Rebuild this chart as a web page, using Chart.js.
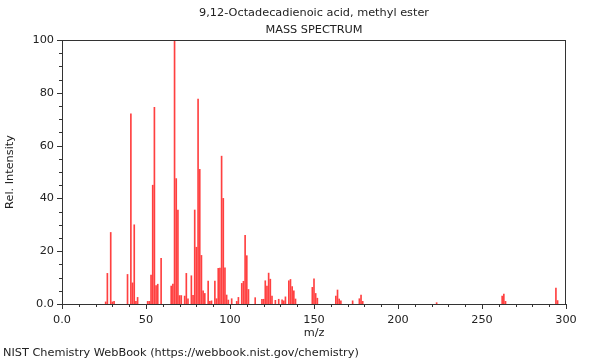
<!DOCTYPE html>
<html>
<head>
<meta charset="utf-8">
<script src="https://cdn.jsdelivr.net/npm/chart.js@4.4.1/dist/chart.umd.min.js"></script>
<style>
  html, body { margin: 0; padding: 0; background: #fff; }
  #wrap { width: 600px; height: 360px; }
</style>
</head>
<body>
<div id="wrap"><canvas id="spec" width="600" height="360"></canvas></div>
<script>
// m/z values and their relative intensity
const mzValues = [
  26, 27, 29, 30, 31,
  39, 41, 42, 43, 44, 45,
  51, 52, 53, 54, 55, 56, 57, 59,
  65, 66, 67, 68, 69, 70, 71, 73, 74, 75,
  77, 78, 79, 80, 81, 82, 83, 84, 85, 87, 88, 89,
  91, 92, 93, 94, 95, 96, 97, 98, 99, 101,
  104, 105, 107, 108, 109, 110, 111, 115,
  119, 120, 121, 122, 123, 124, 125, 127, 129, 131, 132, 133,
  135, 136, 137, 138, 139,
  149, 150, 151, 152,
  163, 164, 165, 166, 173, 177, 178, 179,
  223, 262, 263, 264, 294, 295
];
const intensities = [
  0.8, 11.6, 27.1, 0.8, 1.0,
  11.2, 72.0, 8.0, 30.0, 1.0, 2.5,
  1.0, 1.0, 11.0, 45.0, 74.5, 7.0, 7.5, 17.3,
  6.8, 7.5, 100, 47.5, 35.6, 3.2, 3.2, 3.0, 11.6, 2.0,
  10.7, 3.3, 35.6, 21.5, 77.6, 51.0, 18.4, 5.0, 4.0, 8.7, 1.0, 1.2,
  8.7, 2.0, 13.5, 13.6, 56.0, 40.0, 13.7, 3.4, 1.5, 2.0,
  1.0, 2.5, 7.8, 8.6, 26.0, 18.3, 5.5, 2.4,
  1.8, 1.8, 8.8, 6.8, 11.7, 9.4, 3.0, 1.4, 1.8, 1.6, 1.2, 2.7,
  8.8, 9.3, 6.6, 5.0, 1.9,
  6.3, 9.5, 4.0, 2.2,
  3.0, 5.3, 1.9, 1.2, 1.2, 2.0, 3.4, 1.0,
  0.5, 3.0, 3.8, 1.0, 6.0, 1.3
];

const xTicks = [0, 50, 100, 150, 200, 250, 300];
const yTicks = [0, 20, 40, 60, 80, 100];

const titleLines = ['9,12-Octadecadienoic acid, methyl ester', 'MASS SPECTRUM'];
const xLabel = 'm/z';
const yLabel = 'Rel. Intensity';
const footer = 'NIST Chemistry WebBook (https://webbook.nist.gov/chemistry)';

const FONT = '11.3px "DejaVu Sans", sans-serif';
const INK = '#222';

const fmtTick = v => (v === 0 ? '0.0' : String(v));

// frame, tick marks and text, all placed from the chart's scales
const decor = {
  id: 'decor',
  afterDraw(chart) {
    const ctx = chart.ctx;
    const a = chart.chartArea;
    const xs = chart.scales.x, ys = chart.scales.y;
    ctx.save();
    ctx.strokeStyle = '#333';
    ctx.lineWidth = 1;
    ctx.strokeRect(a.left + 0.5, a.top + 0.5, a.right - a.left - 1, a.bottom - a.top);

    ctx.beginPath();
    for (let v = 0; v <= 300; v += 10) {
      const px = Math.round(xs.getPixelForValue(v)) + 0.5;
      const len = v % 50 === 0 ? 5 : 3;
      ctx.moveTo(px, a.bottom);
      ctx.lineTo(px, a.bottom + len);
    }
    for (let v = 0; v <= 100; v += 5) {
      const py = Math.round(ys.getPixelForValue(v)) + 0.5;
      const len = v % 20 === 0 ? 5 : 3;
      ctx.moveTo(a.left, py);
      ctx.lineTo(a.left - len, py);
    }
    ctx.stroke();

    ctx.fillStyle = INK;
    ctx.font = FONT;
    ctx.textBaseline = 'middle';
    ctx.textAlign = 'center';
    const cx = (a.left + a.right) / 2;
    ctx.fillText(titleLines[0], cx, 13);
    ctx.fillText(titleLines[1], cx, 30);

    xTicks.forEach(v => ctx.fillText(fmtTick(v), xs.getPixelForValue(v), 320));
    ctx.fillText(xLabel, cx, 333);

    ctx.textAlign = 'right';
    yTicks.forEach(v => ctx.fillText(fmtTick(v), a.left - 8, ys.getPixelForValue(v)));

    ctx.save();
    ctx.translate(10, (a.top + a.bottom) / 2);
    ctx.rotate(-Math.PI / 2);
    ctx.textAlign = 'center';
    ctx.fillText(yLabel, 0, 0);
    ctx.restore();

    ctx.textAlign = 'left';
    ctx.fillText(footer, 3, 353);
    ctx.restore();
  }
};

new Chart(document.getElementById('spec'), {
  type: 'bar',
  data: {
    datasets: [{
      data: mzValues.map((m, i) => ({ x: m, y: intensities[i] })),
      backgroundColor: 'rgba(255, 30, 30, 0.85)',
      borderWidth: 0,
      barThickness: 1
    }]
  },
  options: {
    responsive: false,
    animation: false,
    layout: { padding: { top: 40, right: 34, left: 0, bottom: 0 } },
    plugins: { legend: { display: false }, tooltip: { enabled: false } },
    scales: {
      x: {
        type: 'linear', min: 0, max: 300, offset: false,
        grid: { display: false }, border: { display: false },
        ticks: { display: false },
        afterFit: s => { s.height = 56; }
      },
      y: {
        min: 0, max: 100,
        grid: { display: false }, border: { display: false },
        ticks: { display: false },
        afterFit: s => { s.width = 62; }
      }
    }
  },
  plugins: [decor]
});
</script>
</body>
</html>
